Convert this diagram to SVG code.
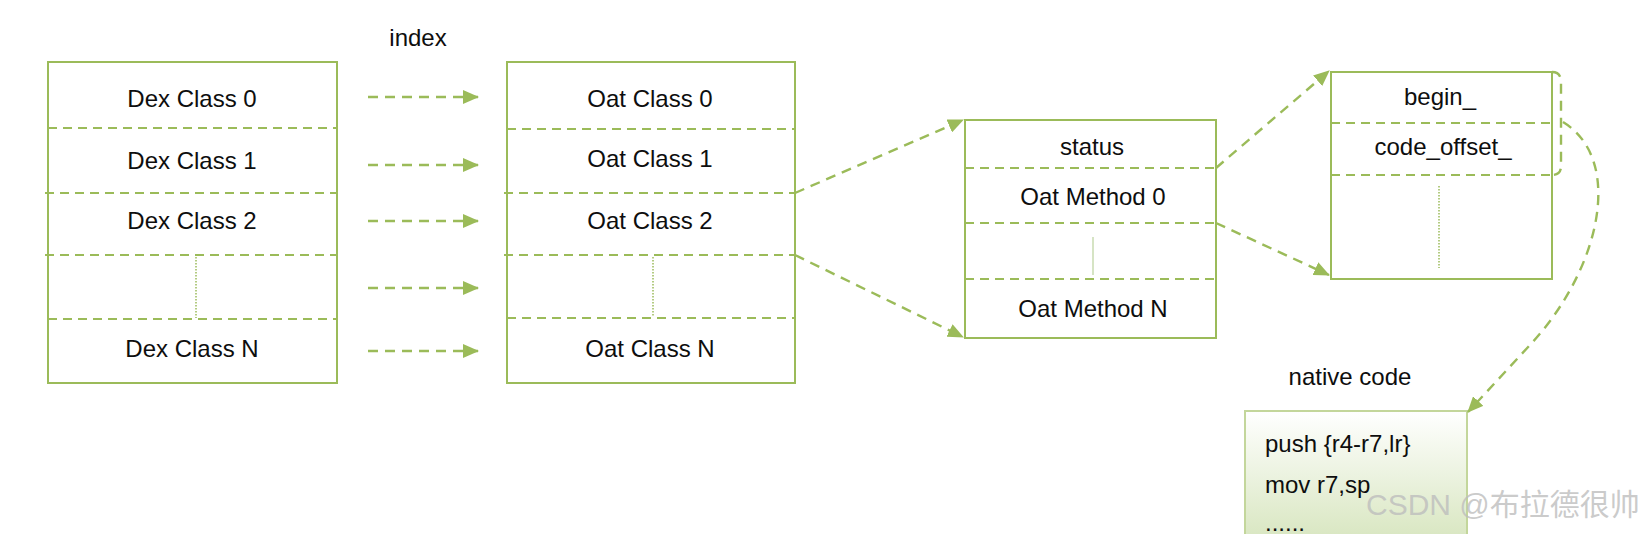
<svg xmlns="http://www.w3.org/2000/svg" width="1644" height="534" viewBox="0 0 1644 534">
<style>
.box{fill:#fff;stroke:#9bbb59;stroke-width:2}
.div{stroke:#9bbb59;stroke-width:2.2;stroke-dasharray:9 6;fill:none}
.dot{stroke:#9bbb59;stroke-width:1.5;stroke-dasharray:1.5 1.5;fill:none}
.conn{stroke:#9bbb59;stroke-width:2.4;stroke-dasharray:10 7;fill:none}
.t{font-family:"Liberation Sans",Arial,sans-serif;font-size:24px;fill:#0e0e0e;text-anchor:middle}
.tl{font-family:"Liberation Sans",Arial,sans-serif;font-size:24px;fill:#0e0e0e}
</style>
<defs>
<marker id="ah" viewBox="0 0 16 14" refX="15" refY="7" markerWidth="16" markerHeight="14" markerUnits="userSpaceOnUse" orient="auto">
<path d="M0,0 L16,7 L0,14 z" fill="#9bbb59"/>
</marker>
<linearGradient id="ng" x1="0" y1="0" x2="0" y2="1">
<stop offset="0" stop-color="#ffffff"/>
<stop offset="1" stop-color="#d8e6c0"/>
</linearGradient>
</defs>
<text class="t" x="418" y="46">index</text>
<g id="dex">
<rect class="box" x="48" y="62" width="289" height="321"/>
<path class="div" d="M48,128H337M45,193H337M45,255H337M48,319H337"/>
<path class="dot" d="M196,257V318"/>
<text class="t" x="192" y="107">Dex Class 0</text>
<text class="t" x="192" y="169">Dex Class 1</text>
<text class="t" x="192" y="229">Dex Class 2</text>
<text class="t" x="192" y="357">Dex Class N</text>
</g>
<g id="oat">
<rect class="box" x="507" y="62" width="288" height="321"/>
<path class="div" d="M507,129H795M504,193H795M504,255H795M507,318H795"/>
<path class="dot" d="M653,257V317"/>
<text class="t" x="650" y="107">Oat Class 0</text>
<text class="t" x="650" y="167">Oat Class 1</text>
<text class="t" x="650" y="229">Oat Class 2</text>
<text class="t" x="650" y="357">Oat Class N</text>
</g>
<g id="method">
<rect class="box" x="965" y="120" width="251" height="218"/>
<path class="div" d="M965,168H1216M965,223H1216M965,279H1216"/>
<path d="M1093,237V275" stroke="#c9dbb0" stroke-width="1.5"/>
<text class="t" x="1092" y="155">status</text>
<text class="t" x="1093" y="205">Oat Method 0</text>
<text class="t" x="1093" y="317">Oat Method N</text>
</g>
<g id="oatmethod">
<rect class="box" x="1331" y="72" width="221" height="207"/>
<path class="div" d="M1331,123H1552M1331,175H1552"/>
<path class="dot" d="M1439,186V268"/>
<text class="t" x="1440" y="105">begin_</text>
<text class="t" x="1443" y="155">code_offset_</text>
</g>
<g id="native">
<text class="t" x="1350" y="385">native code</text>
<rect x="1245" y="411" width="222" height="130" fill="url(#ng)" stroke="#c3d69b" stroke-width="2"/>
<text class="tl" x="1265" y="452">push {r4-r7,lr}</text>
<text class="tl" x="1265" y="493">mov r7,sp</text>
<text class="tl" x="1265" y="531">......</text>
</g>
<g id="connectors">
<path class="conn" d="M368,97H478" marker-end="url(#ah)"/>
<path class="conn" d="M368,165H478" marker-end="url(#ah)"/>
<path class="conn" d="M368,221H478" marker-end="url(#ah)"/>
<path class="conn" d="M368,288H478" marker-end="url(#ah)"/>
<path class="conn" d="M368,351H478" marker-end="url(#ah)"/>
<path class="conn" d="M795,193L963,120" marker-end="url(#ah)"/>
<path class="conn" d="M795,255L963,337" marker-end="url(#ah)"/>
<path class="conn" d="M1216,168L1329,71" marker-end="url(#ah)"/>
<path class="conn" d="M1216,223L1329,275" marker-end="url(#ah)"/>
<path class="conn" d="M1552,72Q1561,72 1561,82L1561,166Q1561,175 1552,175"/>
<path class="conn" d="M1563,122C1625,160 1600,270 1530,345L1468,412" marker-end="url(#ah)"/>
</g>
<text x="1366" y="515" font-family="Liberation Sans,'Noto Sans CJK SC',sans-serif" font-size="30" fill="#bdbdbd" fill-opacity="0.8">CSDN @布拉德很帅</text>
</svg>
